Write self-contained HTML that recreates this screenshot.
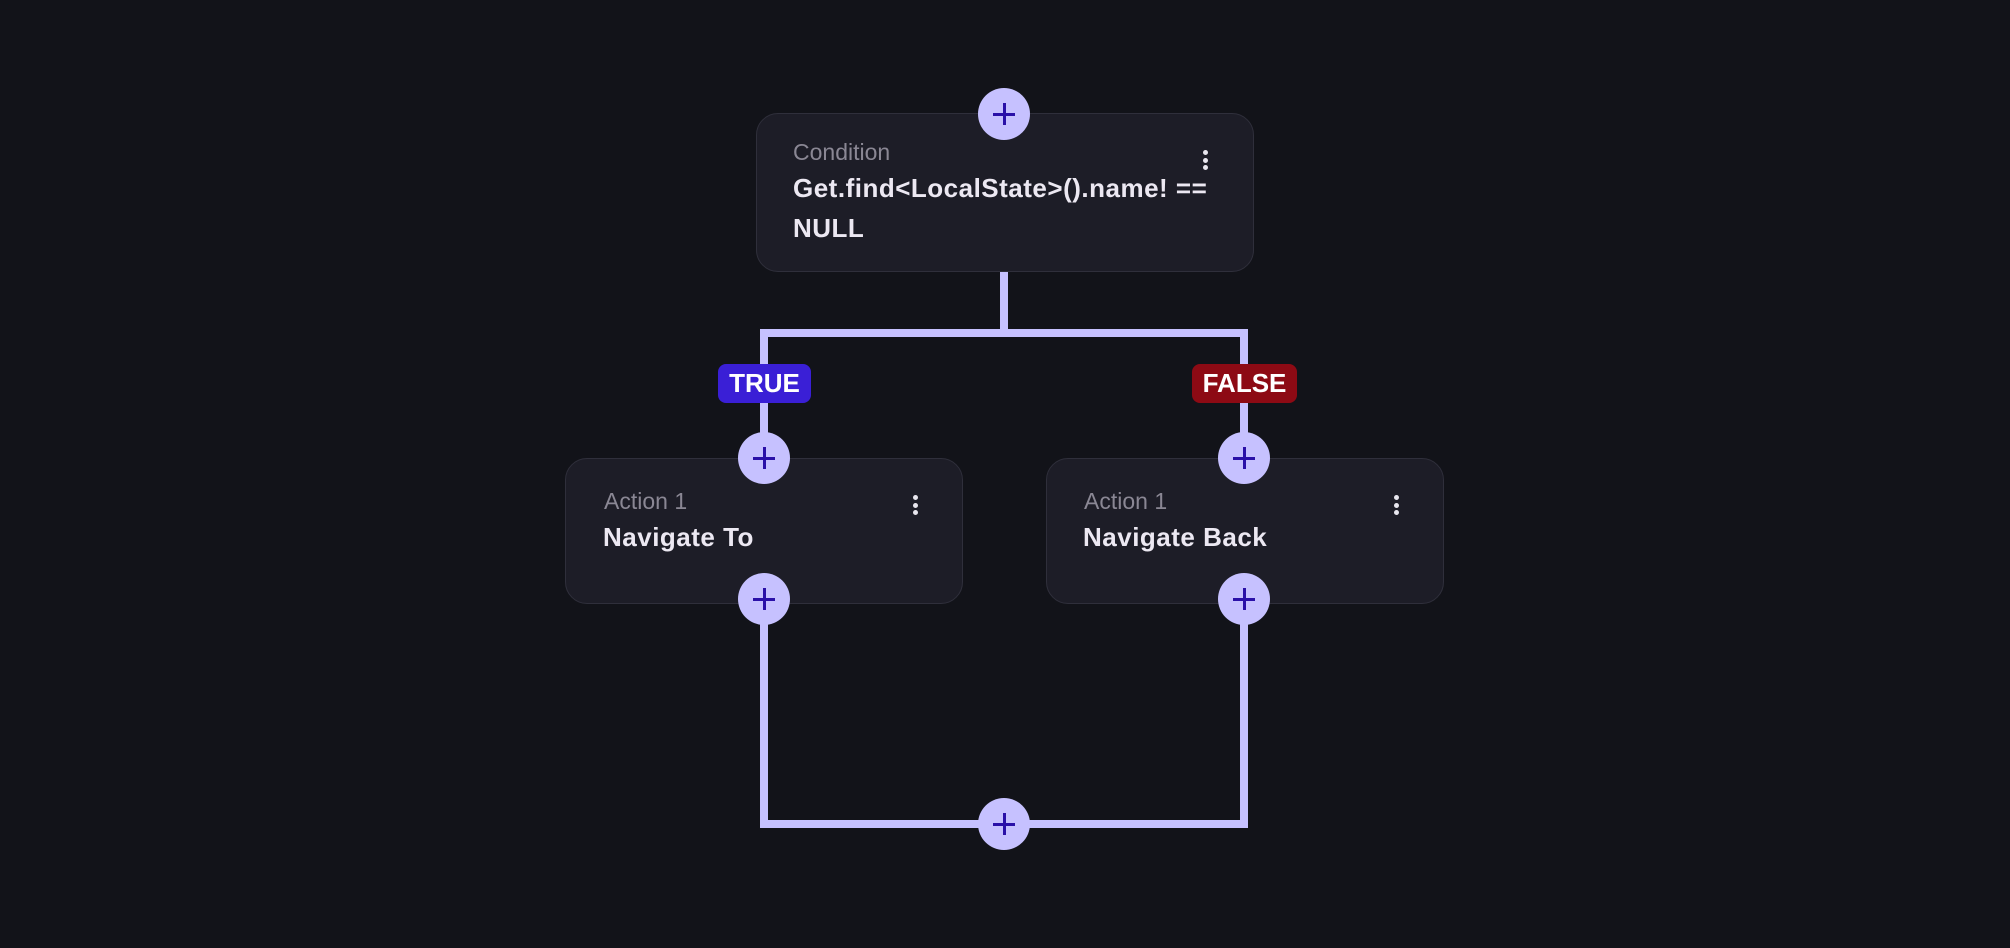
<!DOCTYPE html>
<html><head><meta charset="utf-8"><style>
html,body{margin:0;padding:0;background:#121319;width:2010px;height:948px;overflow:hidden;font-family:"Liberation Sans",sans-serif}
.box{position:absolute;background:#1d1d27;border:1.5px solid #2f2f3b;border-radius:22px;box-sizing:border-box}
.t{position:absolute;color:#8a8794;font-size:23px}
.b{position:absolute;color:#ece8f2;font-size:26px;font-weight:bold;line-height:40px;letter-spacing:0.5px}
.dots{position:absolute;width:6px}
.dots i{display:block;width:5px;height:5px;border-radius:50%;background:#e8e6ee;margin-bottom:2.5px}
.p{position:absolute;width:52px;height:52px;border-radius:50%;background:#c6c1ff;margin:-26px 0 0 -26px}
.p:before{content:"";position:absolute;left:15px;top:25px;width:22px;height:2.5px;background:#2a10a8}
.p:after{content:"";position:absolute;left:25px;top:15px;width:2.5px;height:22px;background:#2a10a8}
.ln{position:absolute;background:#c6c1ff}
.lab{position:absolute;color:#fff;font-weight:bold;font-size:26px;text-align:center;line-height:39px;border-radius:8px}
</style></head><body>
<div class="ln" style="left:1000px;top:272px;width:8px;height:64px"></div>
<div class="ln" style="left:760px;top:329px;width:488px;height:8px"></div>
<div class="ln" style="left:760px;top:329px;width:8px;height:130px"></div>
<div class="ln" style="left:1240px;top:329px;width:8px;height:130px"></div>
<div class="ln" style="left:760px;top:599px;width:8px;height:229px"></div>
<div class="ln" style="left:1240px;top:599px;width:8px;height:229px"></div>
<div class="ln" style="left:760px;top:820px;width:488px;height:8px"></div>

<div class="box" style="left:756px;top:113px;width:498px;height:159px"></div>
<div class="t" style="left:793px;top:139px">Condition</div>
<div class="b" style="left:793px;top:168px">Get.find&lt;LocalState&gt;().name! ==<br>NULL</div>
<div class="dots" style="left:1203px;top:150px"><i></i><i></i><i></i></div>

<div class="box" style="left:565px;top:458px;width:398px;height:146px"></div>
<div class="t" style="left:604px;top:488px">Action 1</div>
<div class="b" style="left:603px;top:517px">Navigate To</div>
<div class="dots" style="left:913px;top:495px"><i></i><i></i><i></i></div>

<div class="box" style="left:1046px;top:458px;width:398px;height:146px"></div>
<div class="t" style="left:1084px;top:488px">Action 1</div>
<div class="b" style="left:1083px;top:517px">Navigate Back</div>
<div class="dots" style="left:1394px;top:495px"><i></i><i></i><i></i></div>

<div class="lab" style="left:718px;top:364px;width:93px;height:39px;background:#3a1fd6">TRUE</div>
<div class="lab" style="left:1192px;top:364px;width:105px;height:39px;background:#8d0a14">FALSE</div>

<div class="p" style="left:1004px;top:114px"></div>
<div class="p" style="left:764px;top:458px"></div>
<div class="p" style="left:1244px;top:458px"></div>
<div class="p" style="left:764px;top:599px"></div>
<div class="p" style="left:1244px;top:599px"></div>
<div class="p" style="left:1004px;top:824px"></div>
</body></html>
